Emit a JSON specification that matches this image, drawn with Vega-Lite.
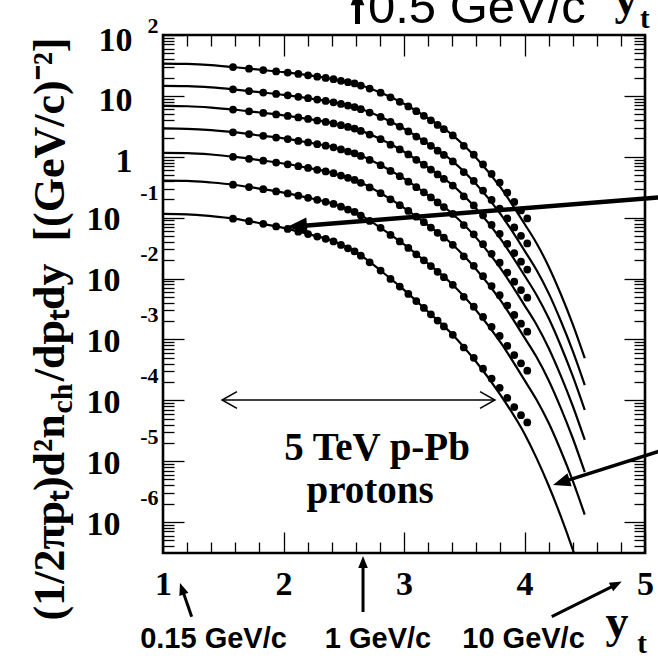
{
  "$schema": "https://vega.github.io/schema/vega-lite/v6.json",
  "width": 482,
  "height": 518,
  "autosize": {"type": "none"},
  "padding": {"left": 163, "top": 35, "right": 13, "bottom": 105},
  "background": "white",
  "config": {
    "view": {"stroke": "black", "strokeWidth": 2.6},
    "axis": {"grid": false, "domain": false, "tickColor": "black", "tickWidth": 1.3, "labelColor": "black", "titleColor": "black"}
  },
  "datasets": {
    "model": [
      {"c":1,"x":1,"y":33.9},{"c":1,"x":1.2,"y":33.5},{"c":1,"x":1.4,"y":32.0},{"c":1,"x":1.6,"y":29.5},{"c":1,"x":1.8,"y":26.9},{"c":1,"x":2,"y":24.5},{"c":1,"x":2.2,"y":21.9},{"c":1,"x":2.4,"y":19.05},{"c":1,"x":2.6,"y":15.85},{"c":1,"x":2.8,"y":11.48},{"c":1,"x":3,"y":7.41},{"c":1,"x":3.2,"y":4.27},{"c":1,"x":3.4,"y":2.29},{"c":1,"x":3.6,"y":0.955},{"c":1,"x":3.8,"y":0.316},{"c":1,"x":4,"y":0.0794},{"c":1,"x":4.1,"y":0.038},{"c":1,"x":4.2,"y":0.0158},{"c":1,"x":4.3,"y":0.00562},{"c":1,"x":4.4,"y":0.00178},{"c":1,"x":4.5,"y":0.00049},
      {"c":2,"x":1,"y":14.6},{"c":2,"x":1.2,"y":14.45},{"c":2,"x":1.4,"y":13.8},{"c":2,"x":1.6,"y":12.7},{"c":2,"x":1.8,"y":11.5},{"c":2,"x":2,"y":10.4},{"c":2,"x":2.2,"y":9.2},{"c":2,"x":2.4,"y":7.96},{"c":2,"x":2.6,"y":6.49},{"c":2,"x":2.8,"y":4.57},{"c":2,"x":3,"y":2.88},{"c":2,"x":3.2,"y":1.63},{"c":2,"x":3.4,"y":0.857},{"c":2,"x":3.6,"y":0.352},{"c":2,"x":3.8,"y":0.1156},{"c":2,"x":4,"y":0.0288},{"c":2,"x":4.1,"y":0.0138},{"c":2,"x":4.2,"y":0.00575},{"c":2,"x":4.3,"y":0.00204},{"c":2,"x":4.4,"y":0.000646},{"c":2,"x":4.5,"y":0.000178},
      {"c":3,"x":1,"y":6.84},{"c":3,"x":1.2,"y":6.76},{"c":3,"x":1.4,"y":6.43},{"c":3,"x":1.6,"y":5.92},{"c":3,"x":1.8,"y":5.33},{"c":3,"x":2,"y":4.8},{"c":3,"x":2.2,"y":4.2},{"c":3,"x":2.4,"y":3.6},{"c":3,"x":2.6,"y":2.87},{"c":3,"x":2.8,"y":1.97},{"c":3,"x":3,"y":1.21},{"c":3,"x":3.2,"y":0.665},{"c":3,"x":3.4,"y":0.345},{"c":3,"x":3.6,"y":0.14},{"c":3,"x":3.8,"y":0.0453},{"c":3,"x":4,"y":0.0112},{"c":3,"x":4.1,"y":0.00537},{"c":3,"x":4.2,"y":0.00224},{"c":3,"x":4.3,"y":0.000794},{"c":3,"x":4.4,"y":0.000251},{"c":3,"x":4.5,"y":0.0000692},
      {"c":4,"x":1,"y":2.92},{"c":4,"x":1.2,"y":2.88},{"c":4,"x":1.4,"y":2.74},{"c":4,"x":1.6,"y":2.51},{"c":4,"x":1.8,"y":2.24},{"c":4,"x":2,"y":2.0},{"c":4,"x":2.2,"y":1.72},{"c":4,"x":2.4,"y":1.46},{"c":4,"x":2.6,"y":1.13},{"c":4,"x":2.8,"y":0.738},{"c":4,"x":3,"y":0.437},{"c":4,"x":3.2,"y":0.233},{"c":4,"x":3.4,"y":0.117},{"c":4,"x":3.6,"y":0.0465},{"c":4,"x":3.8,"y":0.0148},{"c":4,"x":4,"y":0.00363},{"c":4,"x":4.1,"y":0.00174},{"c":4,"x":4.2,"y":0.000724},{"c":4,"x":4.3,"y":0.000257},{"c":4,"x":4.4,"y":0.0000813},{"c":4,"x":4.5,"y":0.0000224},
      {"c":5,"x":1,"y":1.16},{"c":5,"x":1.2,"y":1.15},{"c":5,"x":1.4,"y":1.09},{"c":5,"x":1.6,"y":0.993},{"c":5,"x":1.8,"y":0.881},{"c":5,"x":2,"y":0.774},{"c":5,"x":2.2,"y":0.658},{"c":5,"x":2.4,"y":0.547},{"c":5,"x":2.6,"y":0.41},{"c":5,"x":2.8,"y":0.256},{"c":5,"x":3,"y":0.145},{"c":5,"x":3.2,"y":0.0746},{"c":5,"x":3.4,"y":0.0366},{"c":5,"x":3.6,"y":0.0141},{"c":5,"x":3.8,"y":0.00443},{"c":5,"x":4,"y":0.00107},{"c":5,"x":4.1,"y":0.000513},{"c":5,"x":4.2,"y":0.000214},{"c":5,"x":4.3,"y":0.0000759},{"c":5,"x":4.4,"y":0.000024},{"c":5,"x":4.5,"y":0.00000661},
      {"c":6,"x":1,"y":0.407},{"c":6,"x":1.2,"y":0.403},{"c":6,"x":1.4,"y":0.378},{"c":6,"x":1.6,"y":0.344},{"c":6,"x":1.8,"y":0.3},{"c":6,"x":2,"y":0.258},{"c":6,"x":2.2,"y":0.213},{"c":6,"x":2.4,"y":0.172},{"c":6,"x":2.6,"y":0.122},{"c":6,"x":2.8,"y":0.0693},{"c":6,"x":3,"y":0.0363},{"c":6,"x":3.2,"y":0.0175},{"c":6,"x":3.4,"y":0.00807},{"c":6,"x":3.6,"y":0.00299},{"c":6,"x":3.8,"y":0.000904},{"c":6,"x":4,"y":0.000214},{"c":6,"x":4.1,"y":0.000102},{"c":6,"x":4.2,"y":0.0000427},{"c":6,"x":4.3,"y":0.0000151},{"c":6,"x":4.4,"y":0.00000479},{"c":6,"x":4.5,"y":0.00000132},
      {"c":7,"x":1,"y":0.115},{"c":7,"x":1.2,"y":0.1135},{"c":7,"x":1.4,"y":0.106},{"c":7,"x":1.6,"y":0.0955},{"c":7,"x":1.8,"y":0.0815},{"c":7,"x":2,"y":0.0679},{"c":7,"x":2.2,"y":0.0541},{"c":7,"x":2.4,"y":0.0421},{"c":7,"x":2.6,"y":0.0273},{"c":7,"x":2.8,"y":0.0138},{"c":7,"x":3,"y":0.00649},{"c":7,"x":3.2,"y":0.00284},{"c":7,"x":3.4,"y":0.00122},{"c":7,"x":3.6,"y":0.000425},{"c":7,"x":3.8,"y":0.000123},{"c":7,"x":4,"y":0.0000282},{"c":7,"x":4.1,"y":0.0000112},{"c":7,"x":4.2,"y":0.00000398},{"c":7,"x":4.3,"y":0.00000126},{"c":7,"x":4.4,"y":0.000000355},{"c":7,"x":4.5,"y":0.0000000891}
    ],
    "meas": [
      {"c":1,"x":1.581,"y":29.7},{"c":1,"x":1.714,"y":28.0},{"c":1,"x":1.832,"y":26.5},{"c":1,"x":1.939,"y":25.2},{"c":1,"x":2.035,"y":24.1},{"c":1,"x":2.123,"y":22.9},{"c":1,"x":2.204,"y":21.8},{"c":1,"x":2.28,"y":20.7},{"c":1,"x":2.35,"y":19.7},{"c":1,"x":2.415,"y":18.8},{"c":1,"x":2.477,"y":17.7},{"c":1,"x":2.535,"y":16.8},{"c":1,"x":2.59,"y":16.0},{"c":1,"x":2.642,"y":14.8},{"c":1,"x":2.715,"y":13.2},{"c":1,"x":2.806,"y":11.3},{"c":1,"x":2.888,"y":9.46},{"c":1,"x":2.965,"y":8.0},{"c":1,"x":3.036,"y":6.72},{"c":1,"x":3.102,"y":5.6},{"c":1,"x":3.165,"y":4.7},{"c":1,"x":3.223,"y":3.97},{"c":1,"x":3.279,"y":3.33},{"c":1,"x":3.331,"y":2.84},{"c":1,"x":3.405,"y":2.24},{"c":1,"x":3.496,"y":1.51},{"c":1,"x":3.579,"y":1.08},{"c":1,"x":3.656,"y":0.747},{"c":1,"x":3.727,"y":0.522},{"c":1,"x":3.794,"y":0.376},{"c":1,"x":3.857,"y":0.257},{"c":1,"x":3.915,"y":0.181},{"c":1,"x":3.971,"y":0.131},{"c":1,"x":4.023,"y":0.0969},
      {"c":2,"x":1.581,"y":12.8},{"c":2,"x":1.714,"y":12.0},{"c":2,"x":1.832,"y":11.35},{"c":2,"x":1.939,"y":10.74},{"c":2,"x":2.035,"y":10.21},{"c":2,"x":2.123,"y":9.66},{"c":2,"x":2.204,"y":9.18},{"c":2,"x":2.28,"y":8.69},{"c":2,"x":2.35,"y":8.26},{"c":2,"x":2.415,"y":7.84},{"c":2,"x":2.477,"y":7.36},{"c":2,"x":2.535,"y":6.93},{"c":2,"x":2.59,"y":6.56},{"c":2,"x":2.642,"y":6.04},{"c":2,"x":2.715,"y":5.32},{"c":2,"x":2.806,"y":4.51},{"c":2,"x":2.888,"y":3.73},{"c":2,"x":2.965,"y":3.13},{"c":2,"x":3.036,"y":2.6},{"c":2,"x":3.102,"y":2.15},{"c":2,"x":3.165,"y":1.8},{"c":2,"x":3.223,"y":1.51},{"c":2,"x":3.279,"y":1.26},{"c":2,"x":3.331,"y":1.07},{"c":2,"x":3.405,"y":0.838},{"c":2,"x":3.496,"y":0.561},{"c":2,"x":3.579,"y":0.401},{"c":2,"x":3.656,"y":0.278},{"c":2,"x":3.727,"y":0.195},{"c":2,"x":3.794,"y":0.141},{"c":2,"x":3.857,"y":0.0969},{"c":2,"x":3.915,"y":0.0689},{"c":2,"x":3.971,"y":0.0502},{"c":2,"x":4.023,"y":0.0377},
      {"c":3,"x":1.581,"y":5.96},{"c":3,"x":1.714,"y":5.57},{"c":3,"x":1.832,"y":5.25},{"c":3,"x":1.939,"y":4.96},{"c":3,"x":2.035,"y":4.69},{"c":3,"x":2.123,"y":4.42},{"c":3,"x":2.204,"y":4.19},{"c":3,"x":2.28,"y":3.94},{"c":3,"x":2.35,"y":3.73},{"c":3,"x":2.415,"y":3.53},{"c":3,"x":2.477,"y":3.3},{"c":3,"x":2.535,"y":3.09},{"c":3,"x":2.59,"y":2.9},{"c":3,"x":2.642,"y":2.65},{"c":3,"x":2.715,"y":2.31},{"c":3,"x":2.806,"y":1.94},{"c":3,"x":2.888,"y":1.58},{"c":3,"x":2.965,"y":1.32},{"c":3,"x":3.036,"y":1.09},{"c":3,"x":3.102,"y":0.891},{"c":3,"x":3.165,"y":0.74},{"c":3,"x":3.223,"y":0.617},{"c":3,"x":3.279,"y":0.513},{"c":3,"x":3.331,"y":0.433},{"c":3,"x":3.405,"y":0.337},{"c":3,"x":3.496,"y":0.224},{"c":3,"x":3.579,"y":0.159},{"c":3,"x":3.656,"y":0.109},{"c":3,"x":3.727,"y":0.076},{"c":3,"x":3.794,"y":0.0543},{"c":3,"x":3.857,"y":0.037},{"c":3,"x":3.915,"y":0.0261},{"c":3,"x":3.971,"y":0.0189},{"c":3,"x":4.023,"y":0.014},
      {"c":4,"x":1.581,"y":2.52},{"c":4,"x":1.714,"y":2.36},{"c":4,"x":1.832,"y":2.21},{"c":4,"x":1.939,"y":2.07},{"c":4,"x":2.035,"y":1.95},{"c":4,"x":2.123,"y":1.82},{"c":4,"x":2.204,"y":1.72},{"c":4,"x":2.28,"y":1.61},{"c":4,"x":2.35,"y":1.52},{"c":4,"x":2.415,"y":1.43},{"c":4,"x":2.477,"y":1.32},{"c":4,"x":2.535,"y":1.22},{"c":4,"x":2.59,"y":1.14},{"c":4,"x":2.642,"y":1.03},{"c":4,"x":2.715,"y":0.885},{"c":4,"x":2.806,"y":0.726},{"c":4,"x":2.888,"y":0.585},{"c":4,"x":2.965,"y":0.479},{"c":4,"x":3.036,"y":0.39},{"c":4,"x":3.102,"y":0.317},{"c":4,"x":3.165,"y":0.26},{"c":4,"x":3.223,"y":0.215},{"c":4,"x":3.279,"y":0.178},{"c":4,"x":3.331,"y":0.149},{"c":4,"x":3.405,"y":0.115},{"c":4,"x":3.496,"y":0.0754},{"c":4,"x":3.579,"y":0.0532},{"c":4,"x":3.656,"y":0.0366},{"c":4,"x":3.727,"y":0.0255},{"c":4,"x":3.794,"y":0.0182},{"c":4,"x":3.857,"y":0.0125},{"c":4,"x":3.915,"y":0.00887},{"c":4,"x":3.971,"y":0.00647},{"c":4,"x":4.023,"y":0.00485},
      {"c":5,"x":1.581,"y":1.0},{"c":5,"x":1.714,"y":0.927},{"c":5,"x":1.832,"y":0.863},{"c":5,"x":1.939,"y":0.804},{"c":5,"x":2.035,"y":0.752},{"c":5,"x":2.123,"y":0.7},{"c":5,"x":2.204,"y":0.656},{"c":5,"x":2.28,"y":0.611},{"c":5,"x":2.35,"y":0.573},{"c":5,"x":2.415,"y":0.536},{"c":5,"x":2.477,"y":0.49},{"c":5,"x":2.535,"y":0.451},{"c":5,"x":2.59,"y":0.416},{"c":5,"x":2.642,"y":0.373},{"c":5,"x":2.715,"y":0.313},{"c":5,"x":2.806,"y":0.252},{"c":5,"x":2.888,"y":0.2},{"c":5,"x":2.965,"y":0.16},{"c":5,"x":3.036,"y":0.129},{"c":5,"x":3.102,"y":0.1035},{"c":5,"x":3.165,"y":0.084},{"c":5,"x":3.223,"y":0.0687},{"c":5,"x":3.279,"y":0.0564},{"c":5,"x":3.331,"y":0.0468},{"c":5,"x":3.405,"y":0.0357},{"c":5,"x":3.496,"y":0.0232},{"c":5,"x":3.579,"y":0.0162},{"c":5,"x":3.656,"y":0.0109},{"c":5,"x":3.727,"y":0.00752},{"c":5,"x":3.794,"y":0.00532},{"c":5,"x":3.857,"y":0.0036},{"c":5,"x":3.915,"y":0.00252},{"c":5,"x":3.971,"y":0.00181},{"c":5,"x":4.023,"y":0.00134},
      {"c":6,"x":1.581,"y":0.347},{"c":6,"x":1.714,"y":0.318},{"c":6,"x":1.832,"y":0.294},{"c":6,"x":1.939,"y":0.27},{"c":6,"x":2.035,"y":0.25},{"c":6,"x":2.123,"y":0.229},{"c":6,"x":2.204,"y":0.212},{"c":6,"x":2.28,"y":0.196},{"c":6,"x":2.35,"y":0.182},{"c":6,"x":2.415,"y":0.168},{"c":6,"x":2.477,"y":0.151},{"c":6,"x":2.535,"y":0.136},{"c":6,"x":2.59,"y":0.124},{"c":6,"x":2.642,"y":0.108},{"c":6,"x":2.715,"y":0.0881},{"c":6,"x":2.806,"y":0.0679},{"c":6,"x":2.888,"y":0.0521},{"c":6,"x":2.965,"y":0.0407},{"c":6,"x":3.036,"y":0.0318},{"c":6,"x":3.102,"y":0.025},{"c":6,"x":3.165,"y":0.0199},{"c":6,"x":3.223,"y":0.016},{"c":6,"x":3.279,"y":0.0129},{"c":6,"x":3.331,"y":0.0105},{"c":6,"x":3.405,"y":0.00787},{"c":6,"x":3.496,"y":0.00501},{"c":6,"x":3.579,"y":0.00345},{"c":6,"x":3.656,"y":0.00234},{"c":6,"x":3.727,"y":0.00161},{"c":6,"x":3.794,"y":0.00114},{"c":6,"x":3.857,"y":0.000782},{"c":6,"x":3.915,"y":0.000553},{"c":6,"x":3.971,"y":0.000405},{"c":6,"x":4.023,"y":0.000306},
      {"c":7,"x":1.581,"y":0.0962},{"c":7,"x":1.714,"y":0.0873},{"c":7,"x":1.832,"y":0.0793},{"c":7,"x":1.939,"y":0.0718},{"c":7,"x":2.035,"y":0.0652},{"c":7,"x":2.123,"y":0.0589},{"c":7,"x":2.204,"y":0.0538},{"c":7,"x":2.28,"y":0.0489},{"c":7,"x":2.35,"y":0.0448},{"c":7,"x":2.415,"y":0.0407},{"c":7,"x":2.477,"y":0.0356},{"c":7,"x":2.535,"y":0.0314},{"c":7,"x":2.59,"y":0.0279},{"c":7,"x":2.642,"y":0.0237},{"c":7,"x":2.715,"y":0.0185},{"c":7,"x":2.806,"y":0.0135},{"c":7,"x":2.888,"y":0.00986},{"c":7,"x":2.965,"y":0.00738},{"c":7,"x":3.036,"y":0.00559},{"c":7,"x":3.102,"y":0.00427},{"c":7,"x":3.165,"y":0.00329},{"c":7,"x":3.223,"y":0.00258},{"c":7,"x":3.279,"y":0.00204},{"c":7,"x":3.331,"y":0.00163},{"c":7,"x":3.405,"y":0.00119},{"c":7,"x":3.496,"y":0.000736},{"c":7,"x":3.579,"y":0.000498},{"c":7,"x":3.656,"y":0.00033},{"c":7,"x":3.727,"y":0.000227},{"c":7,"x":3.794,"y":0.00016},{"c":7,"x":3.857,"y":0.000109},{"c":7,"x":3.915,"y":0.0000773},{"c":7,"x":3.971,"y":0.0000568},{"c":7,"x":4.023,"y":0.0000433}
    ],
    "shafts": [
      {"id":"A","x":1.238,"y":2.79e-8,"x2":1.163,"y2":7.48e-8},
      {"id":"B","x":2.66,"y":3.33e-8,"x2":2.66,"y2":2.05e-7},
      {"id":"C","x":4.226,"y":2.79e-8,"x2":4.747,"y2":9.14e-8},
      {"id":"D","x":5.29,"y":0.2286,"x2":2.145,"y2":0.0731},
      {"id":"E","x":5.29,"y":1.862e-5,"x2":4.331,"y2":4.65e-6},
      {"id":"F","x":1.49,"y":1.01e-4,"x2":3.755,"y2":1.01e-4},
      {"id":"G","x":2.614,"y":151.6,"x2":2.614,"y2":376}
    ],
    "heads": [
      {"id":"A","x":1.141,"y":9.97e-8},
      {"id":"B","x":2.66,"y":2.77e-7},
      {"id":"C","x":4.807,"y":1.05e-7},
      {"id":"D","x":2.029,"y":0.0702},
      {"id":"E","x":4.237,"y":4.06e-6},
      {"id":"G","x":2.614,"y":591},
      {"id":"F1","x":1.49,"y":1.01e-4},
      {"id":"F2","x":3.755,"y":1.01e-4}
    ],
    "notes": [
      {"t":"5 TeV p-Pb","x":2.776,"y":1.045e-5,"k":"big"},
      {"t":"protons","x":2.718,"y":2.06e-6,"k":"big"},
      {"t":"0.15 GeV/c","x":1.419,"y":8.53e-9,"k":"gev"},
      {"t":"1 GeV/c","x":2.784,"y":8.53e-9,"k":"gev"},
      {"t":"10 GeV/c","x":3.992,"y":8.53e-9,"k":"gev"},
      {"t":"y","x":4.768,"y":1.29e-8,"k":"y"},
      {"t":"t","x":4.975,"y":7.06e-9,"k":"sub"},
      {"t":"y","x":4.842,"y":221,"k":"y"},
      {"t":"t","x":4.998,"y":130,"k":"sub"},
      {"t":"0.5 GeV/c","x":2.701,"y":155.7,"k":"top"}
    ]
  },
  "resolve": {"scale": {"x": "shared", "y": "shared"}, "axis": {"x": "independent", "y": "independent"}},
  "layer": [
    {
      "data": {"name": "model"},
      "mark": {"type": "line", "color": "black", "strokeWidth": 2.2, "interpolate": "monotone", "clip": true},
      "encoding": {
        "x": {"field": "x", "type": "quantitative", "scale": {"domain": [1, 5], "nice": false, "zero": false},
          "axis": {"orient": "bottom", "values": [1,1.2,1.4,1.6,1.8,2,2.2,2.4,2.6,2.8,3,3.2,3.4,3.6,3.8,4,4.2,4.4,4.6,4.8,5],
            "tickSize": {"condition": {"test": "datum.value % 1 === 0", "value": -21}, "value": -11},
            "labelExpr": "datum.value % 1 === 0 ? format(datum.value, 'd') : ''",
            "labelFont": "Liberation Serif", "labelFontWeight": "bold", "labelFontSize": 34, "labelPadding": 35,
            "labelFlush": false, "labelOverlap": false, "labelBound": false, "title": null}},
        "y": {"field": "y", "type": "quantitative", "scale": {"type": "log", "domain": [3.1e-7, 100], "nice": false},
          "axis": {"orient": "left",
            "values": [4e-7,5e-7,6e-7,7e-7,8e-7,9e-7,1e-6,2e-6,3e-6,4e-6,5e-6,6e-6,7e-6,8e-6,9e-6,1e-5,2e-5,3e-5,4e-5,5e-5,6e-5,7e-5,8e-5,9e-5,1e-4,2e-4,3e-4,4e-4,5e-4,6e-4,7e-4,8e-4,9e-4,0.001,0.002,0.003,0.004,0.005,0.006,0.007,0.008,0.009,0.01,0.02,0.03,0.04,0.05,0.06,0.07,0.08,0.09,0.1,0.2,0.3,0.4,0.5,0.6,0.7,0.8,0.9,1,2,3,4,5,6,7,8,9,10,20,30,40,50,60,70,80,90,100],
            "tickSize": {"condition": {"test": "abs(log(datum.value)/LN10 - round(log(datum.value)/LN10)) < 0.001", "value": -21}, "value": -11},
            "labels": false,
            "title": "(1/2πpₜ)d²n", "titleX": -100, "titleY": 585, "titleAlign": "left", "titleAngle": -90, "titleBaseline": "alphabetic",
            "titleFont": "Liberation Serif", "titleFontWeight": "bold", "titleFontSize": 44}},
        "detail": {"field": "c", "type": "nominal"}
      }
    },
    {
      "data": {"name": "meas"},
      "mark": {"type": "point", "filled": true, "color": "black", "size": 60, "opacity": 1},
      "encoding": {
        "x": {"field": "x", "type": "quantitative", "scale": {"domain": [1, 5], "nice": false, "zero": false},
          "axis": {"orient": "top", "values": [1,1.2,1.4,1.6,1.8,2,2.2,2.4,2.6,2.8,3,3.2,3.4,3.6,3.8,4,4.2,4.4,4.6,4.8,5],
            "tickSize": {"condition": {"test": "datum.value % 1 === 0", "value": -21}, "value": -11},
            "labels": false, "title": null}},
        "y": {"field": "y", "type": "quantitative", "scale": {"type": "log", "domain": [3.1e-7, 100], "nice": false},
          "axis": {"orient": "right",
            "values": [4e-7,5e-7,6e-7,7e-7,8e-7,9e-7,1e-6,2e-6,3e-6,4e-6,5e-6,6e-6,7e-6,8e-6,9e-6,1e-5,2e-5,3e-5,4e-5,5e-5,6e-5,7e-5,8e-5,9e-5,1e-4,2e-4,3e-4,4e-4,5e-4,6e-4,7e-4,8e-4,9e-4,0.001,0.002,0.003,0.004,0.005,0.006,0.007,0.008,0.009,0.01,0.02,0.03,0.04,0.05,0.06,0.07,0.08,0.09,0.1,0.2,0.3,0.4,0.5,0.6,0.7,0.8,0.9,1,2,3,4,5,6,7,8,9,10,20,30,40,50,60,70,80,90,100],
            "tickSize": {"condition": {"test": "abs(log(datum.value)/LN10 - round(log(datum.value)/LN10)) < 0.001", "value": -21}, "value": -11},
            "labels": false, "title": null}}
      }
    },
    {
      "data": {"name": "shafts"},
      "mark": {"type": "rule", "color": "black", "strokeCap": "butt"},
      "encoding": {
        "x": {"field": "x", "type": "quantitative", "scale": {"domain": [1, 5], "nice": false, "zero": false}, "axis": null},
        "x2": {"field": "x2"},
        "y": {"field": "y", "type": "quantitative", "scale": {"type": "log", "domain": [3.1e-7, 100], "nice": false},
          "axis": {"orient": "left", "values": [1e-6,1e-5,1e-4,0.001,0.01,0.1,1,10,100], "ticks": false,
            "labelExpr": "datum.value === 1 ? '1' : '10'",
            "labelFont": "Liberation Serif", "labelFontWeight": "bold", "labelFontSize": 34, "labelBaseline": "middle",
            "labelPadding": {"condition": {"test": "datum.value >= 1", "value": 31}, "value": 43},
            "labelOffset": {"condition": {"test": "datum.value >= 1", "value": 5}, "value": 2},
            "labelFlush": false, "labelOverlap": false, "labelBound": false,
            "title": "ch", "titleX": -92, "titleY": 378, "titleAlign": "left", "titleAngle": -90, "titleBaseline": "alphabetic",
            "titleFont": "Liberation Serif", "titleFontWeight": "bold", "titleFontSize": 30}},
        "y2": {"field": "y2"},
        "strokeWidth": {"condition": [
          {"test": "datum.id === 'D'", "value": 4.5},
          {"test": "datum.id === 'E'", "value": 3.5},
          {"test": "datum.id === 'F'", "value": 1.5},
          {"test": "datum.id === 'G'", "value": 5}], "value": 3}
      }
    },
    {
      "data": {"name": "heads"},
      "transform": [{"filter": "datum.id !== 'F1' && datum.id !== 'F2'"}],
      "mark": {"type": "point", "shape": "M0,0L-2,-0.8L-2,0.8Z", "filled": true, "color": "black", "opacity": 1, "strokeWidth": 0},
      "encoding": {
        "x": {"field": "x", "type": "quantitative", "scale": {"domain": [1, 5], "nice": false, "zero": false}, "axis": null},
        "y": {"field": "y", "type": "quantitative", "scale": {"type": "log", "domain": [3.1e-7, 100], "nice": false},
          "axis": {"orient": "left", "values": [1e-6,1e-5,1e-4,0.001,0.01,0.1,100], "ticks": false,
            "labelExpr": "datum.value === 100 ? '2' : '' + round(log(datum.value)/LN10)",
            "labelFont": "Liberation Serif", "labelFontWeight": "bold", "labelFontSize": 22, "labelBaseline": "middle",
            "labelPadding": 5,
            "labelOffset": {"condition": {"test": "datum.value === 100", "value": -10}, "value": -25},
            "labelFlush": false, "labelOverlap": false, "labelBound": false,
            "title": "/dpₜdy \u00a0[(GeV/c)⁻²]", "titleX": -100, "titleY": 2, "titleAlign": "right", "titleAngle": -90, "titleBaseline": "alphabetic",
            "titleFont": "Liberation Serif", "titleFontWeight": "bold", "titleFontSize": 44}},
        "angle": {"condition": [
          {"test": "datum.id === 'A'", "value": 251},
          {"test": "datum.id === 'B'", "value": 270},
          {"test": "datum.id === 'C'", "value": 333.4},
          {"test": "datum.id === 'D'", "value": 175.5},
          {"test": "datum.id === 'E'", "value": 162.4}], "value": 270},
        "size": {"condition": [
          {"test": "datum.id === 'D'", "value": 400},
          {"test": "datum.id === 'E' || datum.id === 'G'", "value": 300}], "value": 144}
      }
    },
    {
      "data": {"name": "heads"},
      "transform": [{"filter": "datum.id === 'F1' || datum.id === 'F2'"}],
      "mark": {"type": "point", "shape": "M-1.8,-1L0,0L-1.8,1", "filled": false, "color": "black", "opacity": 1, "strokeWidth": 1.5, "size": 276},
      "encoding": {
        "x": {"field": "x", "type": "quantitative", "scale": {"domain": [1, 5], "nice": false, "zero": false}, "axis": null},
        "y": {"field": "y", "type": "quantitative", "scale": {"type": "log", "domain": [3.1e-7, 100], "nice": false}, "axis": null},
        "angle": {"condition": {"test": "datum.id === 'F1'", "value": 180}, "value": 0}
      }
    },
    {
      "data": {"name": "notes"},
      "transform": [{"filter": "datum.k === 'big'"}],
      "mark": {"type": "text", "font": "Liberation Serif", "fontWeight": "bold", "fontSize": 39, "align": "center", "baseline": "alphabetic", "color": "black"},
      "encoding": {
        "x": {"field": "x", "type": "quantitative", "scale": {"domain": [1, 5], "nice": false, "zero": false}, "axis": null},
        "y": {"field": "y", "type": "quantitative", "scale": {"type": "log", "domain": [3.1e-7, 100], "nice": false}, "axis": null},
        "text": {"field": "t"}
      }
    },
    {
      "data": {"name": "notes"},
      "transform": [{"filter": "datum.k === 'gev'"}],
      "mark": {"type": "text", "font": "Liberation Sans", "fontWeight": "bold", "fontSize": 29, "align": "center", "baseline": "alphabetic", "color": "black"},
      "encoding": {
        "x": {"field": "x", "type": "quantitative", "scale": {"domain": [1, 5], "nice": false, "zero": false}, "axis": null},
        "y": {"field": "y", "type": "quantitative", "scale": {"type": "log", "domain": [3.1e-7, 100], "nice": false}, "axis": null},
        "text": {"field": "t"}
      }
    },
    {
      "data": {"name": "notes"},
      "transform": [{"filter": "datum.k === 'y'"}],
      "mark": {"type": "text", "font": "Liberation Serif", "fontWeight": "bold", "fontSize": 46, "align": "center", "baseline": "alphabetic", "color": "black"},
      "encoding": {
        "x": {"field": "x", "type": "quantitative", "scale": {"domain": [1, 5], "nice": false, "zero": false}, "axis": null},
        "y": {"field": "y", "type": "quantitative", "scale": {"type": "log", "domain": [3.1e-7, 100], "nice": false}, "axis": null},
        "text": {"field": "t"}
      }
    },
    {
      "data": {"name": "notes"},
      "transform": [{"filter": "datum.k === 'sub'"}],
      "mark": {"type": "text", "font": "Liberation Serif", "fontWeight": "bold", "fontSize": 29, "align": "center", "baseline": "alphabetic", "color": "black"},
      "encoding": {
        "x": {"field": "x", "type": "quantitative", "scale": {"domain": [1, 5], "nice": false, "zero": false}, "axis": null},
        "y": {"field": "y", "type": "quantitative", "scale": {"type": "log", "domain": [3.1e-7, 100], "nice": false}, "axis": null},
        "text": {"field": "t"}
      }
    },
    {
      "data": {"name": "notes"},
      "transform": [{"filter": "datum.k === 'top'"}],
      "mark": {"type": "text", "font": "Liberation Sans", "fontSize": 49, "align": "left", "baseline": "alphabetic", "color": "black"},
      "encoding": {
        "x": {"field": "x", "type": "quantitative", "scale": {"domain": [1, 5], "nice": false, "zero": false}, "axis": null},
        "y": {"field": "y", "type": "quantitative", "scale": {"type": "log", "domain": [3.1e-7, 100], "nice": false}, "axis": null},
        "text": {"field": "t"}
      }
    }
  ]
}
